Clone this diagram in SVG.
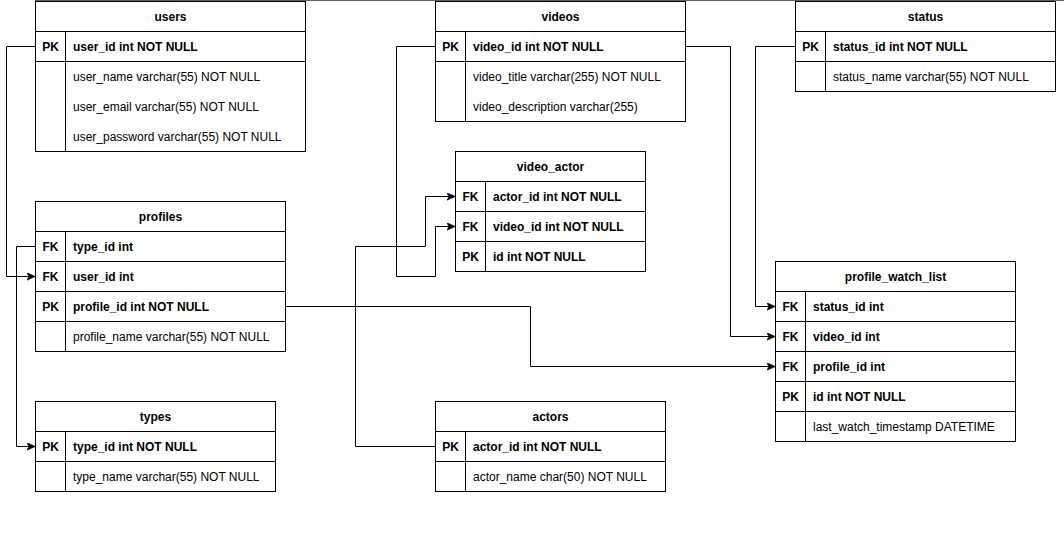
<svg xmlns="http://www.w3.org/2000/svg" width="1064" height="535" viewBox="0 0 1064 535">
  <style>
    .box { fill: #ffffff; stroke: #000000; stroke-width: 1; }
    .ln { stroke: #000000; stroke-width: 1; fill: none; }
    .t { font-family: "Liberation Sans", Arial, sans-serif; font-size: 12px; fill: #000000; }
    .title { font-weight: bold; text-anchor: middle; }
    .key { font-weight: bold; text-anchor: middle; }
    .b { font-weight: bold; }
    .edge { stroke: #000000; stroke-width: 1; fill: none; marker-end: url(#arrow); }
  </style>
  <defs>
    <marker id="arrow" markerUnits="userSpaceOnUse" markerWidth="10" markerHeight="10" refX="9" refY="4" orient="auto">
      <path d="M0,0 L9,4 L0,8 L2.5,4 Z" fill="#000000" stroke="#000000" stroke-width="0.5"/>
    </marker>
  </defs>
  <rect x="0" y="0" width="1064" height="535" fill="#ffffff"/>
  <rect x="35" y="0" width="1029" height="1" fill="#2e3a46" opacity="0.8"/>

  <!-- relations -->
  <g id="connectors">
    <path class="edge" d="M35.5 46.5 H6.5 V276.5 H35.5"/>
    <path class="edge" d="M35.5 246.5 H16.5 V446.5 H35.5"/>
    <path class="edge" d="M435.5 46.5 H396.5 V276.5 H435.5 V226.5 H455.5"/>
    <path class="edge" d="M435.5 446.5 H355.5 V246.5 H425.5 V196.5 H455.5"/>
    <path class="edge" d="M685.5 46.5 H730.5 V336.5 H775.5"/>
    <path class="edge" d="M795.5 46.5 H755.5 V306.5 H775.5"/>
    <path class="edge" d="M285.5 306.5 H530.5 V366.5 H775.5"/>
  </g>

  <!-- users -->
  <g id="users">
    <rect class="box" x="35.5" y="1.5" width="270" height="150"/>
    <path class="ln" d="M35.5 31.5 H305.5 M35.5 61.5 H305.5 M65.5 31.5 V151.5"/>
    <text class="t title" x="170.5" y="21">users</text>
    <text class="t key" x="50.5" y="51">PK</text>
    <text class="t b" x="73" y="51">user_id int NOT NULL</text>
    <text class="t" x="73" y="81">user_name varchar(55) NOT NULL</text>
    <text class="t" x="73" y="111">user_email varchar(55) NOT NULL</text>
    <text class="t" x="73" y="141">user_password varchar(55) NOT NULL</text>
  </g>

  <!-- videos -->
  <g id="videos">
    <rect class="box" x="435.5" y="1.5" width="250" height="120"/>
    <path class="ln" d="M435.5 31.5 H685.5 M435.5 61.5 H685.5 M465.5 31.5 V121.5"/>
    <text class="t title" x="560.5" y="21">videos</text>
    <text class="t key" x="450.5" y="51">PK</text>
    <text class="t b" x="473" y="51">video_id int NOT NULL</text>
    <text class="t" x="473" y="81">video_title varchar(255) NOT NULL</text>
    <text class="t" x="473" y="111">video_description varchar(255)</text>
  </g>

  <!-- status -->
  <g id="status">
    <rect class="box" x="795.5" y="1.5" width="260" height="90"/>
    <path class="ln" d="M795.5 31.5 H1055.5 M795.5 61.5 H1055.5 M825.5 31.5 V91.5"/>
    <text class="t title" x="925.5" y="21">status</text>
    <text class="t key" x="810.5" y="51">PK</text>
    <text class="t b" x="833" y="51">status_id int NOT NULL</text>
    <text class="t" x="833" y="81">status_name varchar(55) NOT NULL</text>
  </g>

  <!-- video_actor -->
  <g id="video_actor">
    <rect class="box" x="455.5" y="151.5" width="190" height="120"/>
    <path class="ln" d="M455.5 181.5 H645.5 M455.5 211.5 H645.5 M455.5 241.5 H645.5 M485.5 181.5 V271.5"/>
    <text class="t title" x="550.5" y="171">video_actor</text>
    <text class="t key" x="470.5" y="201">FK</text>
    <text class="t b" x="493" y="201">actor_id int NOT NULL</text>
    <text class="t key" x="470.5" y="231">FK</text>
    <text class="t b" x="493" y="231">video_id int NOT NULL</text>
    <text class="t key" x="470.5" y="261">PK</text>
    <text class="t b" x="493" y="261">id int NOT NULL</text>
  </g>

  <!-- profiles -->
  <g id="profiles">
    <rect class="box" x="35.5" y="201.5" width="250" height="150"/>
    <path class="ln" d="M35.5 231.5 H285.5 M35.5 261.5 H285.5 M35.5 291.5 H285.5 M35.5 321.5 H285.5 M65.5 231.5 V351.5"/>
    <text class="t title" x="160.5" y="221">profiles</text>
    <text class="t key" x="50.5" y="251">FK</text>
    <text class="t b" x="73" y="251">type_id int</text>
    <text class="t key" x="50.5" y="281">FK</text>
    <text class="t b" x="73" y="281">user_id int</text>
    <text class="t key" x="50.5" y="311">PK</text>
    <text class="t b" x="73" y="311">profile_id int NOT NULL</text>
    <text class="t" x="73" y="341">profile_name varchar(55) NOT NULL</text>
  </g>

  <!-- profile_watch_list -->
  <g id="profile_watch_list">
    <rect class="box" x="775.5" y="261.5" width="240" height="180"/>
    <path class="ln" d="M775.5 291.5 H1015.5 M775.5 321.5 H1015.5 M775.5 351.5 H1015.5 M775.5 381.5 H1015.5 M775.5 411.5 H1015.5 M805.5 291.5 V441.5"/>
    <text class="t title" x="895.5" y="281">profile_watch_list</text>
    <text class="t key" x="790.5" y="311">FK</text>
    <text class="t b" x="813" y="311">status_id int</text>
    <text class="t key" x="790.5" y="341">FK</text>
    <text class="t b" x="813" y="341">video_id int</text>
    <text class="t key" x="790.5" y="371">FK</text>
    <text class="t b" x="813" y="371">profile_id int</text>
    <text class="t key" x="790.5" y="401">PK</text>
    <text class="t b" x="813" y="401">id int NOT NULL</text>
    <text class="t" x="813" y="431">last_watch_timestamp DATETIME</text>
  </g>

  <!-- types -->
  <g id="types">
    <rect class="box" x="35.5" y="401.5" width="240" height="90"/>
    <path class="ln" d="M35.5 431.5 H275.5 M35.5 461.5 H275.5 M65.5 431.5 V491.5"/>
    <text class="t title" x="155.5" y="421">types</text>
    <text class="t key" x="50.5" y="451">PK</text>
    <text class="t b" x="73" y="451">type_id int NOT NULL</text>
    <text class="t" x="73" y="481">type_name varchar(55) NOT NULL</text>
  </g>

  <!-- actors -->
  <g id="actors">
    <rect class="box" x="435.5" y="401.5" width="230" height="90"/>
    <path class="ln" d="M435.5 431.5 H665.5 M435.5 461.5 H665.5 M465.5 431.5 V491.5"/>
    <text class="t title" x="550.5" y="421">actors</text>
    <text class="t key" x="450.5" y="451">PK</text>
    <text class="t b" x="473" y="451">actor_id int NOT NULL</text>
    <text class="t" x="473" y="481">actor_name char(50) NOT NULL</text>
  </g>
</svg>
